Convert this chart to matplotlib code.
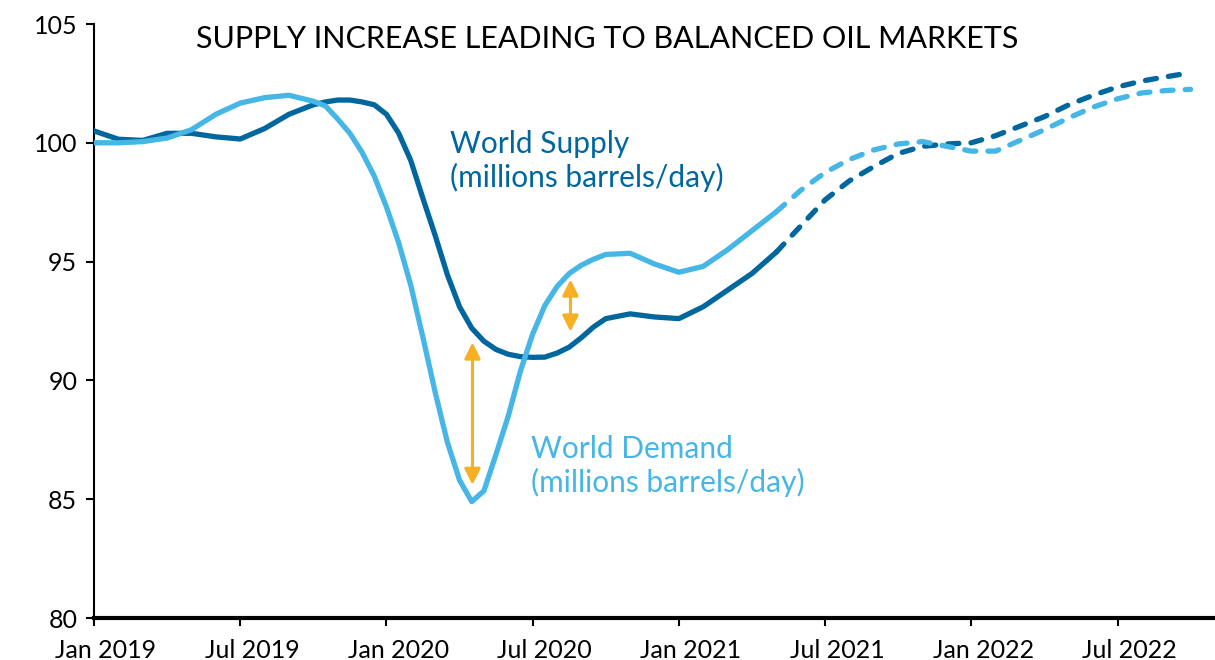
#Oil market chart: world supply vs world demand, actual (solid) and forecast (dashed)

import matplotlib.pyplot as plt
import matplotlib.transforms as mtransforms

plt.rcParams['font.family'] = ['Lato', 'DejaVu Sans']

# months counted from Jan 2019, half-month readings around the 2020 dip
months_actual = [0, 1, 2, 3, 4, 5, 6, 7, 8, 9, 9.5, 10, 10.5, 11, 11.5, 12, 12.5, 13, 13.5,
                 14, 14.5, 15, 15.5, 16, 16.5, 17, 17.5, 18, 18.5, 19, 19.5, 20, 20.5, 21,
                 22, 23, 24, 25, 26, 27, 28]
months_forecast = list(range(28, 46))

supply_actual = [100.5, 100.15, 100.1, 100.4, 100.4, 100.25, 100.16, 100.6, 101.2, 101.6,
                 101.72, 101.8, 101.8, 101.72, 101.6, 101.2, 100.41, 99.25, 97.65,
                 96.1, 94.45, 93.1, 92.2, 91.65, 91.3, 91.1, 91.0, 90.97, 90.98, 91.15,
                 91.4, 91.8, 92.25, 92.6,
                 92.8, 92.67, 92.6, 93.1, 93.8, 94.5, 95.4]
supply_forecast = [95.4, 96.5, 97.6, 98.4, 99.0, 99.55, 99.85, 99.95, 100.0, 100.3,
                   100.7, 101.1, 101.6, 102.0, 102.35, 102.6, 102.78, 102.95]

demand_actual = [100.0, 100.0, 100.05, 100.2, 100.55, 101.2, 101.67, 101.9, 102.0, 101.75,
                 101.55, 101.0, 100.4, 99.6, 98.6, 97.3, 95.8, 94.0, 91.8,
                 89.5, 87.4, 85.8, 84.9, 85.35, 86.9, 88.5, 90.4, 91.95, 93.15, 93.95,
                 94.5, 94.85, 95.1, 95.3,
                 95.35, 94.9, 94.55, 94.8, 95.5, 96.3, 97.1]
demand_forecast = [97.1, 98.0, 98.75, 99.3, 99.7, 99.95, 100.05, 99.85, 99.65, 99.65,
                   100.1, 100.55, 101.05, 101.5, 101.85, 102.1, 102.2, 102.25]

tick_months = [0, 6, 12, 18, 24, 30, 36, 42]
tick_labels = ["Jan 2019", "Jul 2019", "Jan 2020", "Jul 2020",
               "Jan 2021", "Jul 2021", "Jan 2022", "Jul 2022"]

# gaps between supply and demand (month, low, high)
gap_arrows = [(15.53, 85.6, 91.6), (19.55, 92.05, 94.25)]

dark_blue = "#00669E"
light_blue = "#45B6E6"
orange = "#F7B023"

fig = plt.figure(figsize=(12.15, 6.6), dpi=100)
ax = fig.add_axes([94/1215, 1 - 618/660, 1 - 94/1215, (618 - 24)/660])

ax.plot(months_actual, supply_actual, color=dark_blue, lw=3.8, solid_capstyle='round',
        solid_joinstyle='round', zorder=3)
ax.plot(months_actual, demand_actual, color=light_blue, lw=3.8, solid_capstyle='round',
        solid_joinstyle='round', zorder=3)
ax.plot(months_forecast, supply_forecast, color=dark_blue, lw=3.8, dashes=(2.1, 2.3),
        dash_capstyle='round', zorder=3)
ax.plot(months_forecast, demand_forecast, color=light_blue, lw=3.8, dashes=(2.1, 2.3),
        dash_capstyle='round', zorder=3)

for m, lo, hi in gap_arrows:
    ax.annotate('', xy=(m, lo), xytext=(m, hi),
                arrowprops=dict(arrowstyle='<|-|>', color=orange, lw=2.2,
                                mutation_scale=24, shrinkA=0, shrinkB=0), zorder=4)

ax.text(14.6, 99.57, "World Supply", color=dark_blue, fontsize=21.5, va='baseline')
ax.text(14.6, 98.14, "(millions barrels/day)", color=dark_blue, fontsize=21.5, va='baseline')
ax.text(17.95, 86.73, "World Demand", color=light_blue, fontsize=21.5, va='baseline')
ax.text(17.95, 85.3, "(millions barrels/day)", color=light_blue, fontsize=21.5, va='baseline')

fig.text(0.5, 1 - 48/660, "SUPPLY INCREASE LEADING TO BALANCED OIL MARKETS",
         fontsize=22, ha='center', va='baseline', color='black')

ax.set_xlim(0, 46)
ax.set_ylim(80, 105)
ax.set_yticks([80, 85, 90, 95, 100, 105])
ax.set_xticks(tick_months)
ax.set_xticklabels(tick_labels)
ax.tick_params(axis='both', labelsize=18, colors='black', length=6, width=1.5, pad=6)
ax.tick_params(axis='x', pad=9)
offset = mtransforms.ScaledTranslation(12/100, 0, fig.dpi_scale_trans)
for lab in ax.get_xticklabels():
    lab.set_transform(lab.get_transform() + offset)

ax.spines['top'].set_visible(False)
ax.spines['right'].set_visible(False)
ax.spines['left'].set_linewidth(1.5)
ax.spines['bottom'].set_linewidth(3)

fig.savefig("out.png", dpi=100)
